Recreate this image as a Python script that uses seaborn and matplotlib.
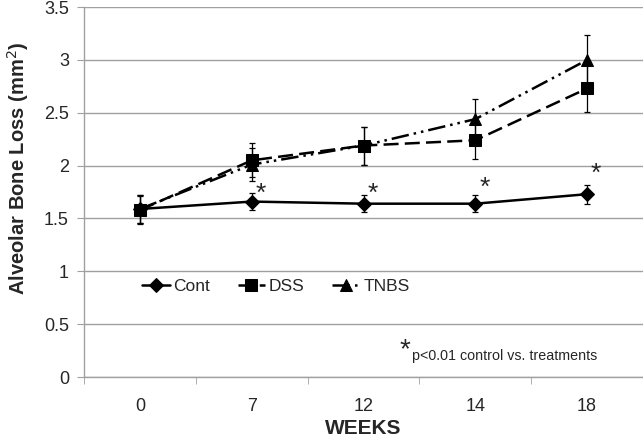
import numpy as np
import pandas as pd
import seaborn as sns
import matplotlib.pyplot as plt

# values
weeks = ['0', '7', '12', '14', '18']
cont = [1.59, 1.66, 1.64, 1.64, 1.73]
cont_err = [0.13, 0.08, 0.08, 0.08, 0.09]
dss = [1.58, 2.05, 2.19, 2.24, 2.73]
dss_err = [0.13, 0.16, 0.18, 0.18, 0.22]
tnbs = [1.59, 2.01, 2.19, 2.44, 3.00]
tnbs_err = [0.13, 0.16, 0.18, 0.19, 0.24]

# asterisks marking significance (x = category index)
stars_x = [1, 2, 3, 4]
stars_y = [1.73, 1.73, 1.79, 1.92]

sns.set_style("white")
plt.rcParams['font.family'] = ['Liberation Sans', 'DejaVu Sans']

fig = plt.figure(figsize=(6.43, 4.41), dpi=100)
ax = fig.add_axes([0.131, 0.145, 0.869, 0.839])

pos = np.arange(len(weeks))
series = [
    ('Cont', cont, cont_err, 'D', '-', 7),
    ('DSS', dss, dss_err, 's', (0, (6, 2.5)), 8.5),
    ('TNBS', tnbs, tnbs_err, '^', (0, (7, 2, 1, 2, 1, 2)), 8.5),
]
for name, vals, errs, mk, ls, ms in series:
    df = pd.DataFrame({'x': pos, 'y': vals})
    sns.lineplot(data=df, x='x', y='y', ax=ax, color='black', marker=mk,
                 markersize=ms, linestyle=ls, linewidth=1.8, label=name,
                 markeredgecolor='black')
    ax.errorbar(pos, vals, yerr=errs, fmt='none', ecolor='black',
                elinewidth=0.9, capsize=2.5, capthick=0.9)

for sx, sy in zip(stars_x, stars_y):
    ax.text(sx + 0.08, sy, '*', fontsize=19, ha='center', va='center')

ax.text(2.37, 0.25, '*', fontsize=20, ha='center', va='center')
ax.text(2.43, 0.2, 'p<0.01 control vs. treatments', fontsize=10.3,
        ha='left', va='center')

ax.set_xlim(-0.5, 4.5)
ax.set_ylim(0, 3.5)
ax.set_yticks(np.arange(0, 3.51, 0.5))
ax.set_yticklabels(['0', '0.5', '1', '1.5', '2', '2.5', '3', '3.5'])
ax.set_xticks(pos)
ax.set_xticklabels(weeks)
ax.set_xticks(np.arange(-0.5, 4.6, 1), minor=True)
ax.tick_params(axis='x', which='major', length=0, labelsize=13, pad=15)
ax.tick_params(axis='x', which='minor', length=5, color='#a0a0a0',
               direction='out', bottom=True)
ax.tick_params(axis='y', length=5, color='#a0a0a0', labelsize=13,
               direction='out', left=True, pad=6)
ax.yaxis.grid(True, color='#a0a0a0', linewidth=1)
ax.set_axisbelow(True)
for s in ['top', 'right']:
    ax.spines[s].set_visible(False)
for s in ['left', 'bottom']:
    ax.spines[s].set_color('#a0a0a0')
    ax.spines[s].set_linewidth(1)

ax.set_xlabel('WEEKS', fontsize=15, fontweight='bold', labelpad=3)
ax.set_ylabel('Alveolar Bone Loss (mm$^2$)', fontsize=14.5, fontweight='bold')
ax.yaxis.set_label_coords(-0.096, 0.565)

ax.legend(loc='center left', bbox_to_anchor=(0.075, 0.245), ncol=3,
          frameon=False, fontsize=12.5, handlelength=1.6, handletextpad=0.2,
          columnspacing=1.6)

fig.savefig('out.png', dpi=100)
